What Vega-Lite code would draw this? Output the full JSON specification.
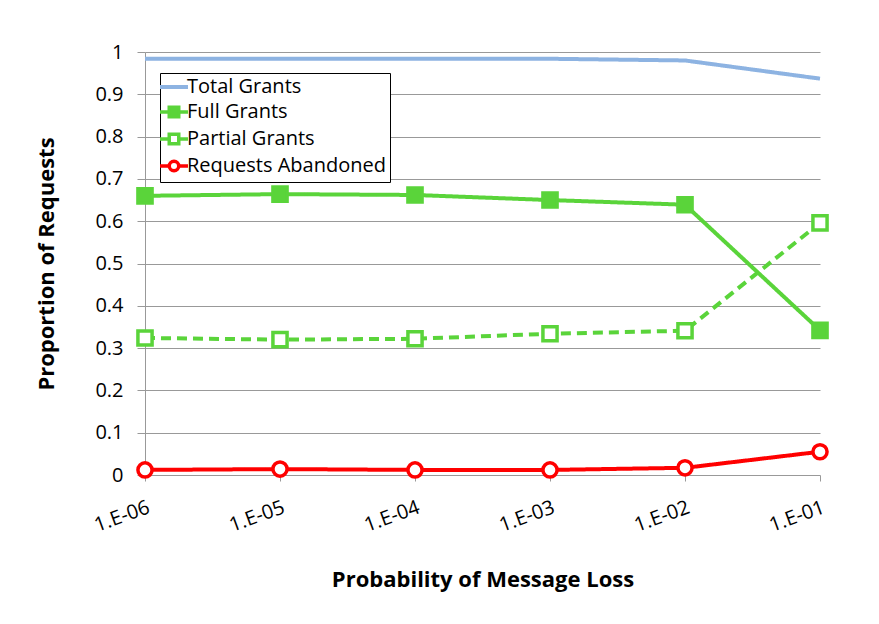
{
  "$schema": "https://vega.github.io/schema/vega-lite/v6.json",
  "width": 675,
  "height": 423,
  "autosize": "none",
  "padding": {"left": 145, "top": 52, "right": 59, "bottom": 149},
  "background": "white",
  "config": {
    "view": {"stroke": null},
    "font": "Open Sans",
    "axis": {"labelFont": "Open Sans", "titleFont": "Open Sans", "labelColor": "black", "titleColor": "black"}
  },
  "data": {"values": [
    {"loss": "1.E-06", "series": "Total Grants", "value": 0.984},
    {"loss": "1.E-05", "series": "Total Grants", "value": 0.984},
    {"loss": "1.E-04", "series": "Total Grants", "value": 0.984},
    {"loss": "1.E-03", "series": "Total Grants", "value": 0.984},
    {"loss": "1.E-02", "series": "Total Grants", "value": 0.98},
    {"loss": "1.E-01", "series": "Total Grants", "value": 0.937},
    {"loss": "1.E-06", "series": "Full Grants", "value": 0.66},
    {"loss": "1.E-05", "series": "Full Grants", "value": 0.664},
    {"loss": "1.E-04", "series": "Full Grants", "value": 0.662},
    {"loss": "1.E-03", "series": "Full Grants", "value": 0.65},
    {"loss": "1.E-02", "series": "Full Grants", "value": 0.639},
    {"loss": "1.E-01", "series": "Full Grants", "value": 0.342},
    {"loss": "1.E-06", "series": "Partial Grants", "value": 0.324},
    {"loss": "1.E-05", "series": "Partial Grants", "value": 0.32},
    {"loss": "1.E-04", "series": "Partial Grants", "value": 0.322},
    {"loss": "1.E-03", "series": "Partial Grants", "value": 0.334},
    {"loss": "1.E-02", "series": "Partial Grants", "value": 0.341},
    {"loss": "1.E-01", "series": "Partial Grants", "value": 0.596},
    {"loss": "1.E-06", "series": "Requests Abandoned", "value": 0.012},
    {"loss": "1.E-05", "series": "Requests Abandoned", "value": 0.014},
    {"loss": "1.E-04", "series": "Requests Abandoned", "value": 0.012},
    {"loss": "1.E-03", "series": "Requests Abandoned", "value": 0.012},
    {"loss": "1.E-02", "series": "Requests Abandoned", "value": 0.017},
    {"loss": "1.E-01", "series": "Requests Abandoned", "value": 0.055}
  ]},
  "encoding": {
    "x": {
      "field": "loss", "type": "ordinal",
      "sort": ["1.E-06", "1.E-05", "1.E-04", "1.E-03", "1.E-02", "1.E-01"],
      "scale": {"type": "point", "padding": 0},
      "axis": {
        "title": "Probability of Message Loss",
        "titleFontSize": 22, "titleFontWeight": "bold", "titlePadding": 34,
        "labelAngle": -20, "labelFontSize": 20, "labelPadding": 16,
        "domain": false, "ticks": true, "tickSize": 6, "tickColor": "#999999",
        "grid": false
      }
    },
    "y": {
      "field": "value", "type": "quantitative",
      "scale": {"domain": [0, 1], "nice": false},
      "axis": {
        "title": "Proportion of Requests",
        "titleFontSize": 22, "titleFontWeight": "bold", "titlePadding": 36,
        "values": [0, 0.1, 0.2, 0.3, 0.4, 0.5, 0.6, 0.7, 0.8, 0.9, 1],
        "format": ".1~f",
        "labelFontSize": 20, "labelPadding": 14,
        "domain": true, "domainColor": "#999999",
        "ticks": true, "tickSize": 8, "tickColor": "#999999",
        "grid": true, "gridColor": "#999999", "gridWidth": 1
      }
    }
  },
  "layer": [
    {
      "mark": {"type": "line", "strokeWidth": 4},
      "encoding": {
        "color": {
          "field": "series", "type": "nominal",
          "scale": {
            "domain": ["Total Grants", "Full Grants", "Partial Grants", "Requests Abandoned"],
            "range": ["#8db3e2", "#5ad43a", "#5ad43a", "#ff0000"]
          },
          "legend": {
            "title": null,
            "orient": "none",
            "legendX": 15,
            "legendY": 21,
            "labelFont": "Open Sans",
            "labelFontSize": 20,
            "labelColor": "black",
            "labelOffset": 3,
            "labelLimit": 400,
            "symbolSize": 784,
            "symbolStrokeWidth": 3.5,
            "rowPadding": 3,
            "padding": 4,
            "strokeColor": "black",
            "fillColor": "white",
            "encode": {
              "symbols": {
                "update": {
                  "shape": {"signal": "datum.value === 'Total Grants' ? 'M-1,0H1' : datum.value === 'Requests Abandoned' ? 'M-1,0H-0.34M0.34,0H1M-0.34,0A0.34,0.34,0,1,0,0.34,0A0.34,0.34,0,1,0,-0.34,0Z' : 'M-1,0H-0.34M0.34,0H1M-0.34,-0.34H0.34V0.34H-0.34Z'"},
                  "fill": {"signal": "datum.value === 'Full Grants' ? '#5ad43a' : datum.value === 'Total Grants' ? 'transparent' : 'white'"},
                  "stroke": {"scale": "color", "field": "value"},
                  "strokeWidth": {"signal": "datum.value === 'Total Grants' ? 4 : 3.5"},
                  "opacity": {"value": 1}
                }
              }
            }
          }
        },
        "strokeDash": {
          "condition": {"test": "datum.series === 'Partial Grants'", "value": [10, 6]},
          "value": [1, 0]
        }
      }
    },
    {
      "transform": [{"filter": "datum.series !== 'Total Grants'"}],
      "mark": {"type": "point", "filled": false, "size": 200, "strokeWidth": 3.5, "opacity": 1},
      "encoding": {
        "shape": {
          "field": "series", "type": "nominal",
          "scale": {
            "domain": ["Full Grants", "Partial Grants", "Requests Abandoned"],
            "range": ["square", "square", "circle"]
          },
          "legend": null
        },
        "stroke": {
          "field": "series", "type": "nominal",
          "scale": {
            "domain": ["Full Grants", "Partial Grants", "Requests Abandoned"],
            "range": ["#5ad43a", "#5ad43a", "#ff0000"]
          },
          "legend": null
        },
        "fill": {
          "field": "series", "type": "nominal",
          "scale": {
            "domain": ["Full Grants", "Partial Grants", "Requests Abandoned"],
            "range": ["#5ad43a", "#ffffff", "#ffffff"]
          },
          "legend": null
        }
      }
    }
  ]
}
